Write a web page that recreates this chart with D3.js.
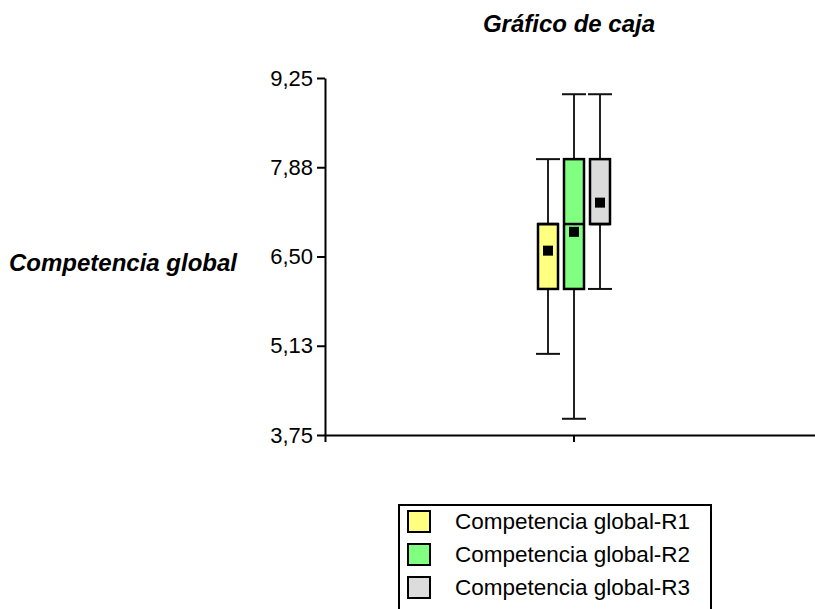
<!DOCTYPE html>
<html>
<head>
<meta charset="utf-8">
<script src="https://cdn.jsdelivr.net/npm/d3@7"></script>
<style>
  html, body { margin: 0; padding: 0; background: #ffffff; }
  svg { display: block; font-family: "Liberation Sans", Arial, Helvetica, sans-serif; }
</style>
</head>
<body>
<svg id="chart" width="815" height="609"></svg>
<script>
// ---- data ----
const categories = ["Competencia global-R1", "Competencia global-R2", "Competencia global-R3"];
const mins    = [5.0, 4.0, 6.0];
const q1      = [6.0, 6.0, 7.0];
const medians = [7.0, 7.0, 7.0];
const q3      = [7.0, 8.0, 8.0];
const maxs    = [8.0, 9.0, 9.0];
const means   = [6.59, 6.88, 7.33];
const colors  = ["#ffff80", "#80ff80", "#dcdcdc"];
const tickValues = [3.75, 5.125, 6.5, 7.875, 9.25];
const tickLabels = ["3,75", "5,13", "6,50", "7,88", "9,25"];
const titleText = "Gráfico de caja";
const yTitle = "Competencia global";

// ---- layout ----
const svg = d3.select("#chart");
const axisX = 325;
const y = d3.scaleLinear().domain([3.75, 9.25]).range([435, 78]);
const group = d3.scaleBand().domain(["g"]).range([axisX, 823]);
const x = d3.scaleBand().domain(categories).range([535, 613]);
const boxW = 20, capW = 24;

// title
svg.append("text")
  .attr("x", 569).attr("y", 32)
  .attr("text-anchor", "middle")
  .attr("font-size", 24).attr("font-weight", "bold").attr("font-style", "italic")
  .text(titleText);

// y title
svg.append("text")
  .attr("x", 9).attr("y", 271)
  .attr("font-size", 24).attr("font-weight", "bold").attr("font-style", "italic")
  .text(yTitle);

// y axis
const yAxis = svg.append("g")
  .attr("transform", `translate(${axisX},0)`)
  .call(d3.axisLeft(y).tickValues(tickValues).tickSize(8).tickSizeOuter(0)
    .tickFormat((d, i) => tickLabels[i]));
yAxis.selectAll("path, line").attr("stroke", "#000").attr("stroke-width", 2);
yAxis.selectAll("text").attr("font-size", 22).attr("fill", "#000")
  .attr("font-family", "Liberation Sans, Arial, sans-serif").attr("dx", -1);

// x axis
const xAxis = svg.append("g")
  .attr("transform", `translate(0,${y(3.75)})`)
  .call(d3.axisBottom(group).tickSize(7).tickSizeOuter(7).tickFormat(""));
xAxis.selectAll("path, line").attr("stroke", "#000").attr("stroke-width", 2);

// boxes
const idx = categories.map((c, i) => i);
const g = svg.append("g");
idx.forEach(i => {
  const cx = x(categories[i]) + x.bandwidth() / 2;
  g.append("line")
    .attr("x1", cx).attr("x2", cx)
    .attr("y1", y(mins[i])).attr("y2", y(maxs[i]))
    .attr("stroke", "#222").attr("stroke-width", 2);
  [mins[i], maxs[i]].forEach(v => {
    g.append("line")
      .attr("x1", cx - capW / 2).attr("x2", cx + capW / 2)
      .attr("y1", y(v)).attr("y2", y(v))
      .attr("stroke", "#111").attr("stroke-width", 2);
  });
  g.append("rect")
    .attr("x", cx - boxW / 2).attr("width", boxW)
    .attr("y", y(q3[i])).attr("height", y(q1[i]) - y(q3[i]))
    .attr("fill", colors[i]).attr("stroke", "#000").attr("stroke-width", 2.5);
  g.append("line")
    .attr("x1", cx - boxW / 2).attr("x2", cx + boxW / 2)
    .attr("y1", y(medians[i])).attr("y2", y(medians[i]))
    .attr("stroke", "#000").attr("stroke-width", 2.5);
  g.append("rect")
    .attr("x", cx - 5).attr("y", y(means[i]) - 5)
    .attr("width", 10).attr("height", 10)
    .attr("fill", "#000");
});

// legend
const leg = svg.append("g");
leg.append("rect")
  .attr("x", 399).attr("y", 505).attr("width", 312).attr("height", 120)
  .attr("fill", "#fff").attr("stroke", "#000").attr("stroke-width", 2);
idx.forEach(i => {
  const yy = 511 + i * 33;
  leg.append("rect")
    .attr("x", 408).attr("y", yy).attr("width", 22).attr("height", 21)
    .attr("fill", colors[i]).attr("stroke", "#000").attr("stroke-width", 2);
  leg.append("text")
    .attr("x", 455).attr("y", yy + 18)
    .attr("font-size", 22.5)
    .text(categories[i]);
});
</script>
</body>
</html>
